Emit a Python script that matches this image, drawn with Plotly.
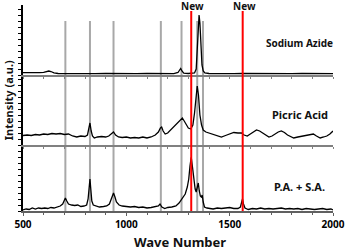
import plotly.graph_objects as go

# ---------------- data ----------------
sa_x = [500, 520, 540, 560, 580, 600, 615, 625, 635, 650, 670, 700, 730, 760, 800, 850, 900, 950,
        1000, 1050, 1100, 1150, 1200, 1230, 1250, 1257, 1263, 1269, 1278, 1300, 1320, 1330, 1338,
        1343, 1348, 1352, 1356, 1360, 1366, 1372, 1380, 1400, 1440, 1480, 1520, 1560, 1600, 1650,
        1700, 1750, 1800, 1850, 1900, 1950, 2000]
sa_y = [2.3, 2.2, 2.4, 2.3, 2.4, 2.6, 3.3, 4.0, 3.5, 2.2, 1.5, 1.4, 1.6, 1.3, 1.5, 1.3, 1.6, 1.3,
        1.5, 1.4, 1.6, 1.3, 1.5, 1.4, 2.5, 4.5, 6.5, 4.0, 1.8, 1.5, 1.4, 2.0, 6.0,
        25, 50, 60, 52, 30, 10, 4, 2, 1.5, 1.3, 1.6, 1.3, 1.5, 1.4, 1.6,
        1.3, 1.5, 1.4, 1.6, 1.3, 1.5, 1.4]

pa_x = [500, 520, 540, 560, 580, 600, 620, 640, 660, 680, 700, 720, 740, 760, 780, 800, 812, 818,
        824, 830, 836, 845, 860, 880, 900, 915, 928, 938, 948, 962, 980, 1000, 1020, 1040, 1060,
        1080, 1100, 1120, 1140, 1155, 1165, 1171, 1178, 1188, 1200, 1215, 1230, 1245, 1260, 1271,
        1280, 1290, 1300, 1312, 1322, 1330, 1337, 1343, 1349, 1356, 1364, 1372, 1385, 1400, 1420,
        1440, 1460, 1480, 1500, 1520, 1540, 1557, 1570, 1585, 1600, 1615, 1630, 1645, 1660, 1675,
        1690, 1705, 1720, 1735, 1750, 1765, 1780, 1795, 1810, 1830, 1850, 1870, 1890, 1905, 1920,
        1938, 1955, 1970, 1985, 2000]
pa_y = [9.5, 10, 9.5, 10.5, 10, 11, 10.5, 11.5, 11, 11.5, 10.5, 11, 9, 8, 9, 8.5, 10, 15,
        22, 14, 9, 7, 8, 8.5, 8, 9, 11, 13, 10, 8, 7.5, 8, 7, 7.5, 7,
        8, 7, 8, 10, 13, 17, 18, 14, 11, 12, 15, 19, 22, 25, 27,
        24, 20, 17, 16, 20, 32, 50, 59, 50, 30, 20, 15, 13, 12, 11,
        9, 8, 9.5, 11, 12.5, 12, 12, 10, 9, 11, 13, 15, 14, 12, 10,
        8, 9, 11, 13, 14, 12.5, 10, 8.5, 7, 8, 9, 10, 10.5, 11, 9,
        7, 8, 9, 11, 14]

mix_x = [500, 515, 530, 545, 560, 575, 590, 605, 620, 635, 650, 665, 680, 692, 700, 705, 712, 720,
         735, 750, 765, 780, 795, 808, 815, 820, 824, 828, 833, 840, 855, 870, 890, 905, 918, 928,
         938, 945, 952, 965, 980, 1000, 1020, 1040, 1060, 1080, 1100, 1120, 1140, 1155, 1163, 1172,
         1186, 1200, 1220, 1240, 1255, 1270, 1285, 1295, 1302, 1308, 1314, 1320, 1326, 1333, 1338,
         1343, 1348, 1353, 1358, 1363, 1367, 1372, 1378, 1390, 1405, 1420, 1440, 1460, 1480, 1500,
         1520, 1540, 1552, 1558, 1562, 1567, 1574, 1590, 1610, 1630, 1650, 1670, 1690, 1710, 1730,
         1750, 1770, 1790, 1810, 1830, 1850, 1870, 1890, 1910, 1930, 1950, 1970, 1990, 2000]
mix_y = [1, 2, 1.5, 3, 2, 3, 2.5, 3, 2.5, 3.5, 3, 4, 5, 7, 11, 13, 10, 7,
         6, 5.5, 6, 4.5, 5, 6, 12, 24, 32, 22, 10, 6, 5, 4, 4.5, 5, 7, 13,
         18, 14, 9, 6, 5, 4.5, 4, 4.5, 3.5, 4, 3, 3.5, 4, 5, 7, 4,
         2.5, 3.5, 4, 5, 8, 12, 17, 24, 32, 45, 54, 44, 30, 22, 19,
         24, 28, 20, 15, 14, 16, 9, 4, 3, 2.5, 2, 3, 2.5, 3, 3.5,
         2.5, 2.5, 4, 9, 12, 7, 3, 1.5, 2.5, 2, 3, 2, 2.5, 2, 2.5,
         3, 2, 2.5, 2, 2.5, 1.5, 2.5, 2, 1.5, 2, 2.5, 1.5, 2, 1]

gray_lines = [705, 824, 938, 1167, 1267, 1343, 1371]
red_lines = [1314, 1563]
panel_labels = ["Sodium Azide", "Picric Acid", "P.A. + S.A."]
x_ticks = [500, 1000, 1500, 2000]

FONT = "Noto Sans"

fig = go.Figure()
line = dict(color="black", width=1.3)
fig.add_trace(go.Scatter(x=mix_x, y=mix_y, mode="lines", line=line, xaxis="x", yaxis="y", showlegend=False))
fig.add_trace(go.Scatter(x=pa_x, y=pa_y, mode="lines", line=line, xaxis="x2", yaxis="y2", showlegend=False))
fig.add_trace(go.Scatter(x=sa_x, y=sa_y, mode="lines", line=line, xaxis="x3", yaxis="y3", showlegend=False))

H = 206.0
d1 = 66 / H
d2 = 136 / H

sep_axis = dict(range=[500, 2000], showline=True, linecolor="#808080", linewidth=1.5,
                ticks="outside", tickcolor="#808080", ticklen=2, dtick=100,
                showticklabels=False, showgrid=False, zeroline=False)
yax = dict(showline=True, linecolor="black", linewidth=1.5, ticks="outside", ticklen=3,
           tickcolor="black", dtick=6, showticklabels=False, showgrid=False, zeroline=False)

fig.update_layout(
    width=350, height=251,
    margin=dict(l=23, r=12, t=5, b=40),
    plot_bgcolor="white", paper_bgcolor="white",
    font=dict(family=FONT, color="black"),
    xaxis=dict(range=[500, 2000], domain=[0, 1], anchor="y", showline=True, linecolor="#606060",
               linewidth=1.5, ticks="outside", ticklen=3, tickcolor="#606060",
               tickvals=x_ticks, ticktext=[f"<b>{v}</b>" for v in x_ticks],
               tickfont=dict(size=10, family=FONT, color="black"),
               minor=dict(ticks="outside", dtick=100, ticklen=2, tickcolor="#606060"),
               showgrid=False, zeroline=False),
    xaxis2=dict(sep_axis, anchor="y2", matches="x"),
    xaxis3=dict(sep_axis, anchor="y3", matches="x"),
    yaxis=dict(yax, domain=[0, d1], range=[0, 66]),
    yaxis2=dict(yax, domain=[d1, d2], range=[0, 70]),
    yaxis3=dict(yax, domain=[d2, 1], range=[0, 70]),
)

gtop = (211 - 21) / H
rtop = (211 - 11) / H
for gx in gray_lines:
    fig.add_shape(type="line", xref="x", yref="paper", x0=gx, x1=gx, y0=0, y1=gtop,
                  line=dict(color="#a8a8a8", width=2), layer="below")
for rx in red_lines:
    fig.add_shape(type="line", xref="x", yref="paper", x0=rx, x1=rx, y0=0, y1=rtop,
                  line=dict(color="#ff0000", width=2), layer="above")
    fig.add_annotation(x=rx + 8, xref="x", y=(211 - 6) / H, yref="paper", text="<b>New</b>",
                       showarrow=False, font=dict(size=10, family=FONT, color="#111111"),
                       xanchor="center", yanchor="middle")

label_y = [(211 - 43) / H, (211 - 114) / H, (211 - 186) / H]
label_size = [10, 11, 11]
for txt, ly, sz in zip(panel_labels, label_y, label_size):
    fig.add_annotation(x=1840, xref="x", y=ly, yref="paper", text=f"<b>{txt}</b>",
                       showarrow=False, font=dict(size=sz, family=FONT, color="#111111"),
                       xanchor="center", yanchor="middle")

fig.add_annotation(x=(8 - 23) / 315, xref="paper", y=(211 - 100) / H, yref="paper",
                   text="<b>Intensity (a.u.)</b>", textangle=-90, showarrow=False,
                   font=dict(size=11, family=FONT, color="#111111"), xanchor="center", yanchor="middle")
fig.add_annotation(x=(183 - 23) / 315, xref="paper", y=(211 - 242) / H, yref="paper",
                   text="<b>Wave Number</b>", showarrow=False,
                   font=dict(size=13, family=FONT, color="#111111"), xanchor="center", yanchor="middle")

fig.write_html("out.html", config={"displayModeBar": False},
               post_script="document.body.style.margin='0';document.body.style.overflow='hidden';")
